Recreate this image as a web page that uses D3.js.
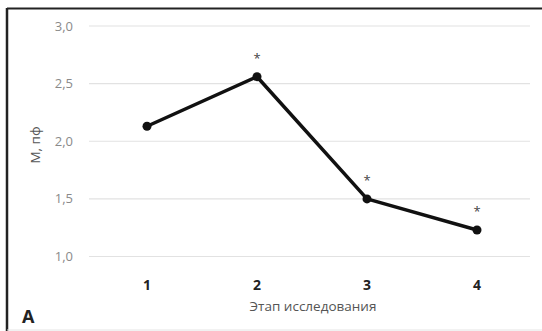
<!DOCTYPE html>
<html>
<head>
<meta charset="utf-8">
<script src="https://cdn.jsdelivr.net/npm/d3@7"></script>
<style>
  body { margin: 0; background: #fff; }
  svg { display: block; font-family: "Open Sans", "DejaVu Sans", sans-serif; }
</style>
</head>
<body>
<svg id="chart" width="542" height="331"></svg>
<script>
// données
const stages = ["1", "2", "3", "4"];
const values = [2.13, 2.56, 1.5, 1.23];
const significant = [false, true, true, true]; // astérisques
const yTicks = [1.0, 1.5, 2.0, 2.5, 3.0];

const svg = d3.select("#chart");
const plotLeft = 92, plotRight = 532, plotTop = 26, plotBottom = 256.5;

// cadre
svg.append("line").attr("x1", 7).attr("x2", 542).attr("y1", 8.5).attr("y2", 8.5)
  .attr("stroke", "#222").attr("stroke-width", 2);
svg.append("line").attr("x1", 7).attr("x2", 7).attr("y1", 8).attr("y2", 331)
  .attr("stroke", "#222").attr("stroke-width", 2.5);
svg.append("line").attr("x1", 7).attr("x2", 542).attr("y1", 330).attr("y2", 330)
  .attr("stroke", "#e4e4e4").attr("stroke-width", 1);

const x = d3.scaleBand().domain(stages).range([plotLeft, plotRight]);
const y = d3.scaleLinear().domain([1, 3]).range([plotBottom, plotTop]);

// grille
svg.append("g").selectAll("line").data(yTicks).join("line")
  .attr("x1", plotLeft - 3).attr("x2", plotRight - 2)
  .attr("y1", d => y(d)).attr("y2", d => y(d))
  .attr("stroke", "#e2e2e2").attr("stroke-width", 1.2);

// axe Y (labels)
const fmt = d => d3.format(".1f")(d).replace(".", ",");
svg.append("g").selectAll("text").data(yTicks).join("text")
  .attr("x", 73).attr("y", d => y(d)).attr("dy", "0.35em")
  .attr("text-anchor", "end")
  .attr("font-size", 13).attr("fill", "#8a8a8a")
  .text(fmt);

// axe X (labels)
svg.append("g").selectAll("text").data(stages).join("text")
  .attr("x", d => x(d) + x.bandwidth() / 2).attr("y", 290)
  .attr("text-anchor", "middle")
  .attr("font-size", 14).attr("font-weight", "bold").attr("fill", "#222")
  .text(d => d);

// titres
svg.append("text").attr("x", 313).attr("y", 311)
  .attr("text-anchor", "middle").attr("font-size", 13.5).attr("fill", "#555")
  .text("Этап исследования");
svg.append("text")
  .attr("transform", "translate(40,145) rotate(-90)")
  .attr("text-anchor", "middle").attr("font-size", 13.5).attr("fill", "#555")
  .text("М, пф");
svg.append("text").attr("x", 22).attr("y", 323)
  .attr("font-size", 18).attr("font-weight", "bold").attr("fill", "#222")
  .text("А");

// ligne
const pts = stages.map((s, i) => ({ s, v: values[i], sig: significant[i] }));
const line = d3.line().x(d => x(d.s) + x.bandwidth() / 2).y(d => y(d.v));
svg.append("path").datum(pts).attr("d", line)
  .attr("fill", "none").attr("stroke", "#111").attr("stroke-width", 3.5)
  .attr("stroke-linejoin", "round");
svg.append("g").selectAll("circle").data(pts).join("circle")
  .attr("cx", d => x(d.s) + x.bandwidth() / 2).attr("cy", d => y(d.v))
  .attr("r", 4.5).attr("fill", "#111");

// astérisques
svg.append("g").selectAll("text").data(pts.filter(d => d.sig)).join("text")
  .attr("x", d => x(d.s) + x.bandwidth() / 2).attr("y", d => y(d.v) - 14)
  .attr("text-anchor", "middle").attr("font-size", 13).attr("fill", "#444")
  .text("*");
</script>
</body>
</html>
